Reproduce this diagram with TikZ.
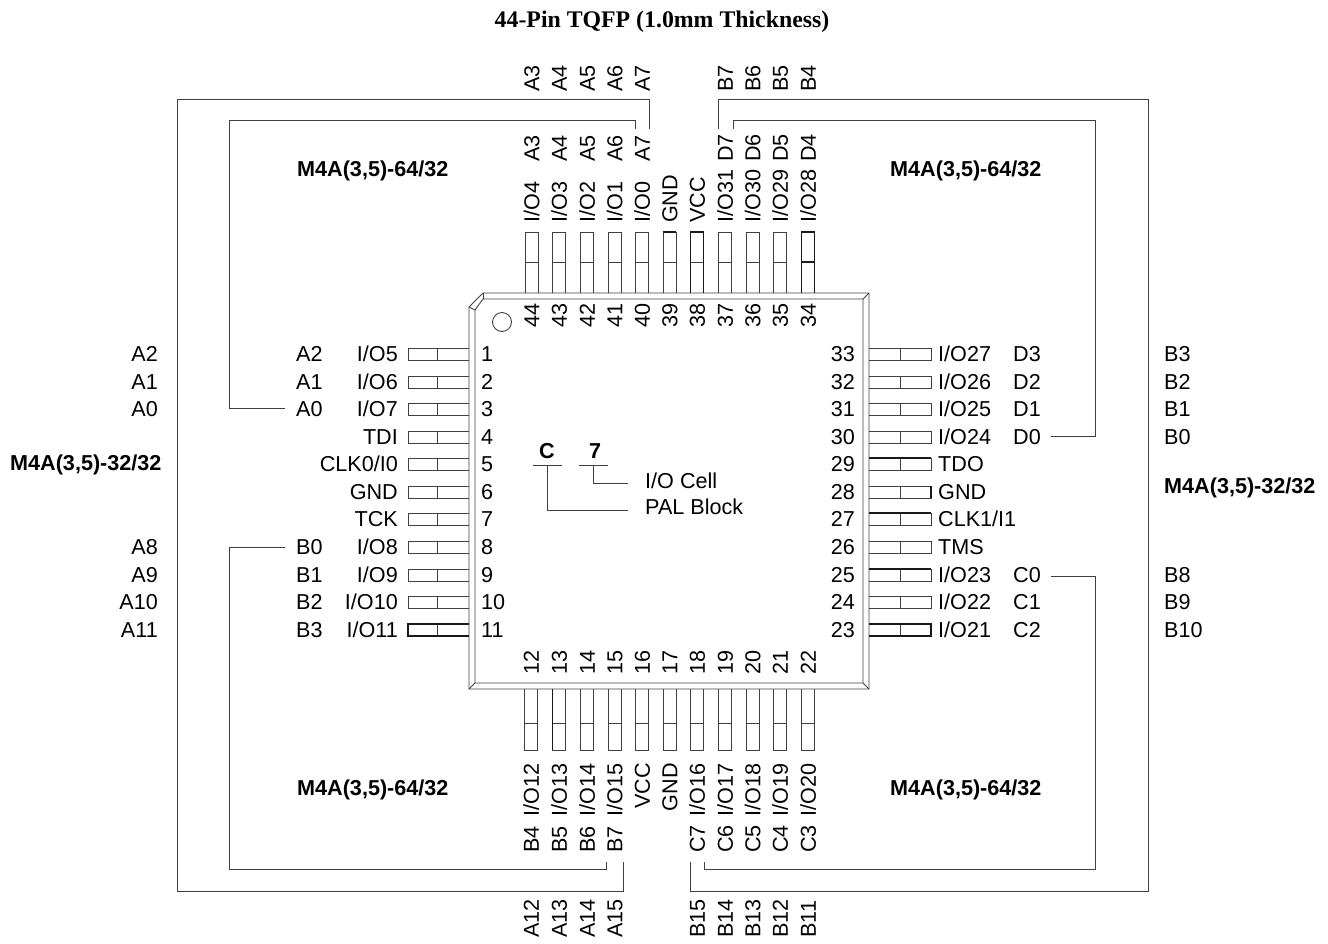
\documentclass[tikz,border=0pt]{standalone}
\usepackage{fontspec}
\setmainfont{Liberation Sans}
\newfontfamily\titlefont{Liberation Serif}
\tikzset{
    line/.style={line width=0.9pt,color=black!75},
    pin/.style={line width=0.9pt,color=black!75},
    heavy/.style={line width=1.6pt,color=black!90},
    lbl/.style={inner sep=0pt,text height=15.5pt,text depth=0pt,font=\fontsize{21.6}{22}\selectfont},
    part/.style={inner sep=0pt,text height=15.5pt,text depth=0pt,font=\fontsize{21.6}{22}\selectfont\bfseries},
}
\begin{document}
\begin{tikzpicture}[x=1pt,y=-1pt]
    \useasboundingbox (0,0) rectangle (1328,943);
    \node[inner sep=0pt,font=\fontsize{23.8}{24}\selectfont\titlefont\bfseries] (title) at (662,22) {44-Pin TQFP (1.0mm Thickness)};
    % package body
    \draw[line] (483,293) -- (869,293) -- (869,689) -- (469,689) -- (469,307) -- cycle;
    \draw[line] (483,299) -- (863,299) -- (863,683) -- (475,683) -- (475,310) -- cycle;
    \draw[line] (483,293) -- (483,299);
    \draw[line] (469,307) -- (475,310);
    \draw[line] (869,293) -- (863,299);
    \draw[line] (869,689) -- (863,683);
    \draw[line] (469,689) -- (475,683);
    \draw[line] (502,322) circle (9.5);
    % top side
    \foreach \x/\n/\s in {531.5/44/I\slash O4,559/43/I\slash O3,587/42/I\slash O2,614.5/41/I\slash O1,642/40/I\slash O0,669.5/39/GND,697/38/VCC,725/37/I\slash O31,752.5/36/I\slash O30,780/35/I\slash O29,808/34/I\slash O28} {
        \draw[pin] (\x-6.5,293) -- (\x-6.5,232) -- (\x+6.5,232) -- (\x+6.5,293);
        \draw[pin] (\x-6.5,262) -- (\x+6.5,262);
        \node[lbl,rotate=90,anchor=west] (n\n) at (\x,328) {\n};
        \node[lbl,rotate=90,anchor=west] (s\n) at (\x,223) {\s};
    }
    \foreach \x/\a/\b in {531.5/A3/A3,559/A4/A4,587/A5/A5,614.5/A6/A6,642/A7/A7,725/B7/D7,752.5/B6/D6,780/B5/D5,808/B4/D4} {
        \node[lbl,rotate=90,anchor=west] (o\a) at (\x,92) {\a};
        \node[lbl,rotate=90,anchor=west] (i\b) at (\x,162) {\b};
    }
    % bottom side
    \foreach \x/\n/\s in {531/12/I\slash O12,559/13/I\slash O13,587/14/I\slash O14,614.5/15/I\slash O15,642/16/VCC,669.5/17/GND,697/18/I\slash O16,725/19/I\slash O17,752.5/20/I\slash O18,780/21/I\slash O19,808/22/I\slash O20} {
        \draw[pin] (\x-6.5,689) -- (\x-6.5,750) -- (\x+6.5,750) -- (\x+6.5,689);
        \draw[pin] (\x-6.5,723) -- (\x+6.5,723);
        \node[lbl,rotate=90,anchor=west] (n\n) at (\x,675) {\n};
        \node[lbl,rotate=90,anchor=east] (s\n) at (\x,763) {\s};
    }
    \foreach \x/\a/\b in {531/A12/B4,559/A13/B5,587/A14/B6,614.5/A15/B7,697/B15/C7,725/B14/C6,752.5/B13/C5,780/B12/C4,808/B11/C3} {
        \node[lbl,rotate=90,anchor=west] (o\a) at (\x,938) {\a};
        \node[lbl,rotate=90,anchor=west] (i\b) at (\x,853) {\b};
    }
    % left side
    \foreach \y/\n/\s in {354/1/I\slash O5,382/2/I\slash O6,409/3/I\slash O7,437/4/TDI,464/5/CLK0\slash I0,492/6/GND,519/7/TCK,547/8/I\slash O8,575/9/I\slash O9,602/10/I\slash O10,630/11/I\slash O11} {
        \draw[pin] (469,\y-6) -- (408,\y-6) -- (408,\y+6) -- (469,\y+6);
        \draw[pin] (437,\y-6) -- (437,\y+6);
        \node[lbl,anchor=west] (n\n) at (481,\y) {\n};
        \node[lbl,anchor=east] (s\n) at (398,\y) {\s};
    }
    \foreach \y/\a in {354/A2,382/A1,409/A0,547/B0,575/B1,602/B2,630/B3} {
        \node[lbl,anchor=west] (i\a) at (296,\y) {\a};
    }
    \foreach \y/\a in {354/A2,382/A1,409/A0,547/A8,575/A9,602/A10,630/A11} {
        \node[lbl,anchor=east] (o\a) at (158,\y) {\a};
    }
    % right side
    \foreach \y/\n/\s in {354/33/I\slash O27,382/32/I\slash O26,409/31/I\slash O25,437/30/I\slash O24,464/29/TDO,492/28/GND,519/27/CLK1\slash I1,547/26/TMS,575/25/I\slash O23,602/24/I\slash O22,630/23/I\slash O21} {
        \draw[pin] (869,\y-6) -- (931,\y-6) -- (931,\y+6) -- (869,\y+6);
        \draw[pin] (900,\y-6) -- (900,\y+6);
        \node[lbl,anchor=east] (n\n) at (855,\y) {\n};
        \node[lbl,anchor=west] (s\n) at (938,\y) {\s};
    }
    \foreach \y/\a in {354/D3,382/D2,409/D1,437/D0,575/C0,602/C1,630/C2} {
        \node[lbl,anchor=west] (i\a) at (1013,\y) {\a};
    }
    \foreach \y/\a in {354/B3,382/B2,409/B1,437/B0,575/B8,602/B9,630/B10} {
        \node[lbl,anchor=west] (o\a) at (1164,\y) {\a};
    }
    % heavier pins
    \draw[heavy] (469,624) -- (408,624) -- (408,636) -- (469,636);
    \draw[heavy] (869,624) -- (931,624) -- (931,636) -- (869,636);
    \draw[heavy] (801.5,293) -- (801.5,232) -- (814.5,232) -- (814.5,293);
    \draw[heavy] (801.5,262) -- (814.5,262);
    \draw[heavy] (690.5,293) -- (690.5,232) -- (703.5,232) -- (703.5,293);
    \draw[heavy] (663,232) -- (676,232);
    \draw[heavy] (552.5,689) -- (552.5,750);
    \foreach \y in {458,513,569} {
        \draw[heavy] (869,\y) -- (931,\y);
    }
    \draw[heavy] (931,486) -- (931,498);
    % part names
    \node[part,anchor=west] (tl) at (297,169) {M4A(3,5)-64/32};
    \node[part,anchor=west] (tr) at (890,169) {M4A(3,5)-64/32};
    \node[part,anchor=west] (bl) at (297,788) {M4A(3,5)-64/32};
    \node[part,anchor=west] (br) at (890,788) {M4A(3,5)-64/32};
    \node[part,anchor=west] (ml) at (10,463) {M4A(3,5)-32/32};
    \node[part,anchor=west] (mr) at (1164,486) {M4A(3,5)-32/32};
    % brackets
    \coordinate (a7o) at (649,129);
    \coordinate (a15o) at (623.5,862);
    \coordinate (a7i) at (635,129);
    \coordinate (a0i) at (285,408);
    \coordinate (b0i) at (285,547);
    \coordinate (b7i) at (606,862);
    \coordinate (b7o) at (718,129);
    \coordinate (b15o) at (690,862);
    \coordinate (d7i) at (733,129);
    \coordinate (d0i) at (1051,436);
    \coordinate (c0i) at (1051,576);
    \coordinate (c7i) at (704,862);
    \draw[line] (a7o) |- (177,99) |- (a15o |- 0,891) -- (a15o);
    \draw[line] (a7i) |- (229,120) |- (a0i);
    \draw[line] (b0i) -| (229,869) -| (b7i);
    \draw[line] (b7o) |- (1148,99) |- (b15o |- 0,891) -- (b15o);
    \draw[line] (d7i) |- (1095,120) |- (d0i);
    \draw[line] (c0i) -| (1095,869) -| (c7i);
    % legend
    \node[part,anchor=center] (blk) at (547,451) {C};
    \node[part,anchor=center] (cel) at (595,451) {7};
    \node[lbl,anchor=west] (cell) at (645,481) {I/O Cell};
    \node[lbl,anchor=west] (pal) at (645,507) {PAL Block};
    \coordinate (blkbar) at (547,465);
    \coordinate (celbar) at (593,465);
    \draw[line] (533,465) -- (562,465);
    \draw[line] (579,465) -- (608,465);
    \draw[line] (blkbar) |- (628,510);
    \draw[line] (celbar) |- (628,483);
\end{tikzpicture}
\end{document}
